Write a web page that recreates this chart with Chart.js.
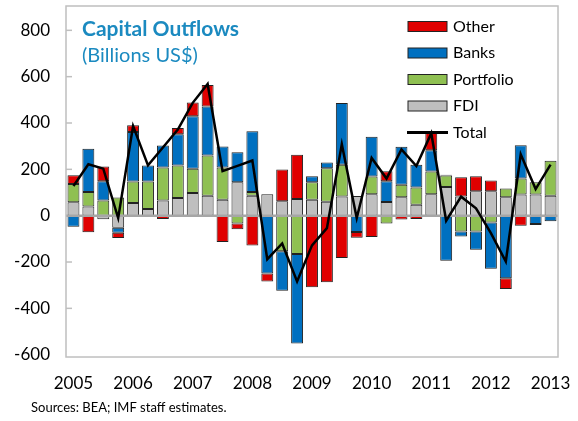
<!DOCTYPE html>
<html>
<head>
<meta charset="utf-8">
<script src="https://cdn.jsdelivr.net/npm/chart.js@4"></script>
<style>
  body { margin: 0; background: #fff; }
  #wrap { width: 578px; height: 421px; }
</style>
</head>
<body>
<div id="wrap"><canvas id="outflows"></canvas></div>
<script>
// Trimestres 2005Q1 - 2013Q1
var quarters = [
  '2005Q1','2005Q2','2005Q3','2005Q4','2006Q1','2006Q2','2006Q3','2006Q4',
  '2007Q1','2007Q2','2007Q3','2007Q4','2008Q1','2008Q2','2008Q3','2008Q4',
  '2009Q1','2009Q2','2009Q3','2009Q4','2010Q1','2010Q2','2010Q3','2010Q4',
  '2011Q1','2011Q2','2011Q3','2011Q4','2012Q1','2012Q2','2012Q3','2012Q4',
  '2013Q1'
];

// Series (miles de millones US$)
var fdi       = [58, 40, -15, -52, 55, 29, 66, 76, 98, 86, 69, 144, 86, 93, 62, 72, 69, 60, 83, 85, 93, 59, 80, 47, 93, 124, 83, 105, 105, 80, 91, 91, 86];
var portfolio = [79, 62, 66, 78, 93, 119, 142, 141, 105, 174, 139, -34, 16, 0, -154, -165, 75, 145, 137, 0, 76, -34, 53, 75, 98, 49, -68, -68, -29, 37, 69, 53, 151];
var banks     = [-48, 187, 83, -22, 213, 69, 95, 134, 226, 211, 91, 130, 262, -250, -170, -387, 26, 24, 266, -70, 172, 90, 165, 98, 91, -195, -22, -79, -200, -270, 144, -36, -24];
var other     = [38, -72, 63, -22, 29, 0, -14, 27, 60, 93, -114, -25, -129, -34, 137, 191, -309, -287, -183, -25, -92, 43, -17, -14, 78, 4, 83, 65, 47, -47, -43, -4, 0];
var total     = [128, 222, 203, -10, 387, 217, 294, 372, 487, 568, 192, 215, 238, -188, -120, -284, -128, -54, 308, -10, 249, 160, 286, 214, 356, -22, 82, 32, -75, -198, 265, 115, 220];

var yTicks = [-600, -400, -200, 0, 200, 400, 600, 800];

var colors = {
  other: '#E00000',
  banks: '#0070C0',
  portfolio: '#8FC052',
  fdi: '#BFBFBF'
};

var FONT = 'Lato, "Open Sans", sans-serif';

// Leyenda, titulo, marco, etc.
var decor = {
  id: 'decor',
  beforeDatasetDraw: function(chart, args) {
    if (args.index !== 4) return;
    var ctx = chart.ctx, a = chart.chartArea;
    var y0 = chart.scales.y.getPixelForValue(0);
    ctx.save();
    ctx.strokeStyle = '#A6A6A6';
    ctx.lineWidth = 2.5;
    ctx.beginPath();
    ctx.moveTo(a.left, y0);
    ctx.lineTo(a.right, y0);
    ctx.stroke();
    ctx.restore();
  },
  afterDraw: function(chart) {
    var ctx = chart.ctx, a = chart.chartArea;
    var ys = chart.scales.y;
    ctx.save();

    // marco
    ctx.strokeStyle = '#BFBFBF';
    ctx.lineWidth = 1.5;
    ctx.strokeRect(a.left, a.top, a.right - a.left, a.bottom - a.top);

    // marcas del eje y hacia adentro
    yTicks.forEach(function(v) {
      if (v === 0 || v === -600) return;
      var y = ys.getPixelForValue(v);
      ctx.beginPath();
      ctx.moveTo(a.left, y);
      ctx.lineTo(a.left + 6, y);
      ctx.stroke();
    });

    // titulo
    ctx.fillStyle = '#1B8AC0';
    ctx.textBaseline = 'alphabetic';
    ctx.textAlign = 'left';
    ctx.font = 'bold 21px ' + FONT;
    ctx.fillText('Capital Outflows', 82, 36);
    ctx.font = '20px ' + FONT;
    ctx.fillText('(Billions US$)', 82, 62);

    // leyenda
    var items = [
      { label: 'Other', color: colors.other },
      { label: 'Banks', color: colors.banks },
      { label: 'Portfolio', color: colors.portfolio },
      { label: 'FDI', color: colors.fdi },
      { label: 'Total', line: true }
    ];
    ctx.font = '16px ' + FONT;
    ctx.textBaseline = 'middle';
    items.forEach(function(it, i) {
      var cy = 26.5 + i * 26.5;
      if (it.line) {
        ctx.strokeStyle = '#000';
        ctx.lineWidth = 3;
        ctx.beginPath();
        ctx.moveTo(407, cy);
        ctx.lineTo(448, cy);
        ctx.stroke();
      } else {
        ctx.fillStyle = it.color;
        ctx.fillRect(408, cy - 5, 39, 10);
        ctx.strokeStyle = '#222';
        ctx.lineWidth = 1;
        ctx.strokeRect(408, cy - 5, 39, 10);
      }
      ctx.fillStyle = '#000';
      ctx.fillText(it.label, 453, cy);
    });

    // fuente
    ctx.font = '13px ' + FONT;
    ctx.textBaseline = 'alphabetic';
    ctx.fillText('Sources: BEA; IMF staff estimates.', 31, 412);
    ctx.restore();
  }
};

function barSet(label, data, color) {
  return {
    type: 'bar',
    label: label,
    data: data,
    backgroundColor: color,
    borderColor: '#222',
    borderWidth: 1,
    borderSkipped: false,
    stack: 'flows',
    order: 1,
    categoryPercentage: 1,
    barPercentage: 0.8
  };
}

var ctx = document.getElementById('outflows').getContext('2d');
var chart = new Chart(ctx, {
  data: {
    labels: quarters,
    datasets: [
      barSet('FDI', fdi, colors.fdi),
      barSet('Portfolio', portfolio, colors.portfolio),
      barSet('Banks', banks, colors.banks),
      barSet('Other', other, colors.other),
      {
        type: 'line',
        label: 'Total',
        data: total,
        borderColor: '#000',
        borderWidth: 2.5,
        pointRadius: 0,
        tension: 0,
        fill: false,
        stack: 'total',
        order: 0
      }
    ]
  },
  plugins: [decor],
  options: {
    responsive: true,
    maintainAspectRatio: false,
    animation: false,
    layout: { padding: { left: 0, top: 6, right: 20, bottom: 0 } },
    plugins: {
      legend: { display: false },
      tooltip: { enabled: false }
    },
    scales: {
      x: {
        stacked: true,
        grid: { display: false, drawTicks: false },
        border: { display: false },
        ticks: {
          autoSkip: false,
          maxRotation: 0,
          padding: 16,
          color: '#000',
          font: { family: FONT, size: 17 },
          callback: function(val, i) {
            var q = quarters[i];
            return q.slice(4) === 'Q1' ? q.slice(0, 4) : '';
          }
        },
        afterFit: function(scale) {
          scale.height = 64;
          scale.paddingLeft = 0;
          scale.paddingRight = 0;
        }
      },
      y: {
        stacked: true,
        min: -610,
        max: 905,
        grid: { display: false, drawTicks: false },
        border: { display: false },
        afterBuildTicks: function(scale) {
          scale.ticks = yTicks.map(function(v) { return { value: v }; });
        },
        ticks: {
          padding: 16,
          color: '#000',
          font: { family: FONT, size: 17 }
        },
        afterFit: function(scale) {
          scale.width = 66;
          scale.paddingTop = 0;
          scale.paddingBottom = 0;
        }
      }
    }
  }
});
console.log('Gráfico listo');
</script>
</body>
</html>
